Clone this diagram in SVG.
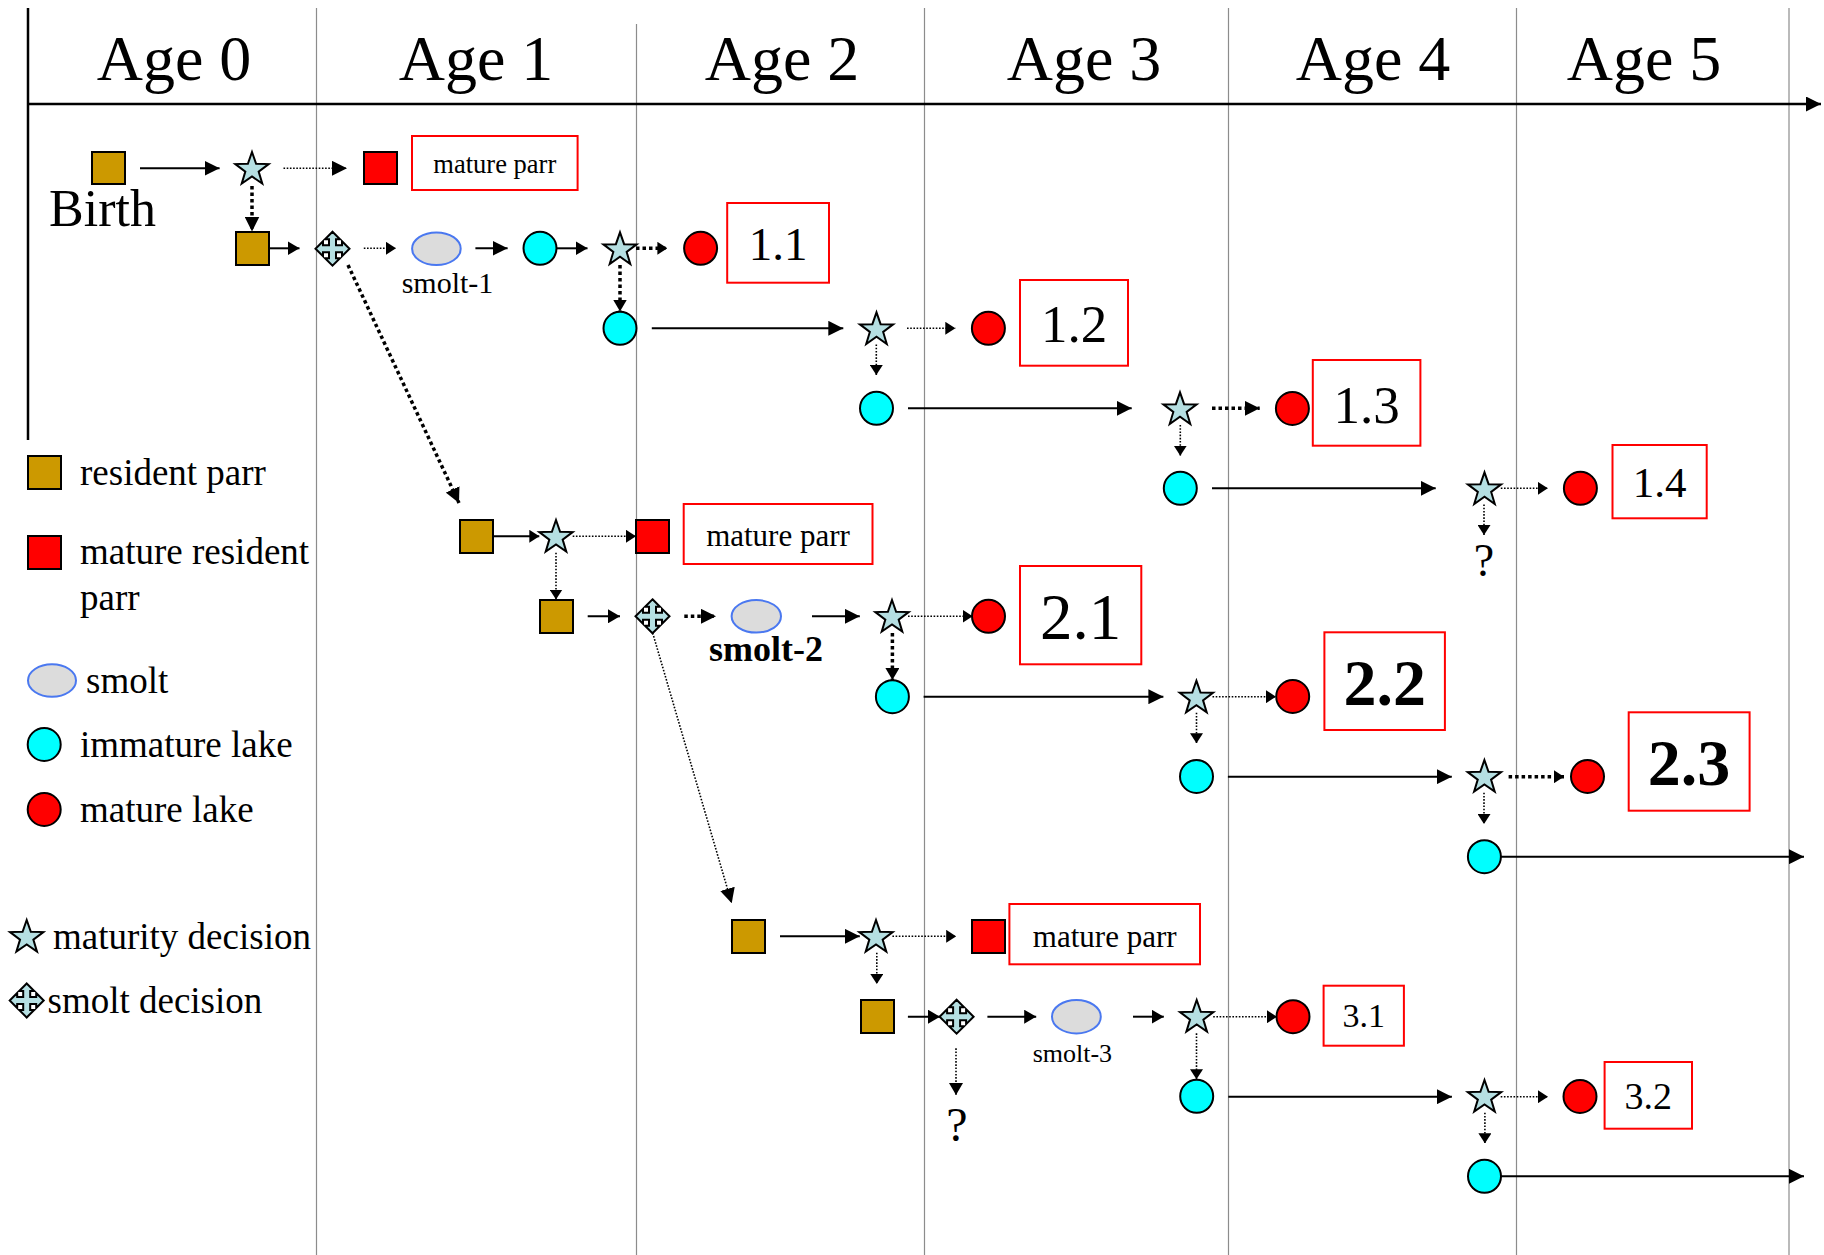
<svg xmlns="http://www.w3.org/2000/svg" xmlns:xlink="http://www.w3.org/1999/xlink" width="1824" height="1255" viewBox="0 0 1824 1255">
  <style>
    .grid{stroke:#8c8c8c;stroke-width:1.2;fill:none}
    .axis{stroke:#000;stroke-width:2.5;fill:none}
    .solid{stroke:#000;stroke-width:2;fill:none}
    .dot{stroke:#000;stroke-width:1.6;stroke-dasharray:1.6 1.6;fill:none}
    .dotb{stroke:#000;stroke-width:3.5;stroke-dasharray:3.5 3;fill:none}
    .parr{fill:#cc9900;stroke:#000;stroke-width:2}
    .mparr{fill:#ff0000;stroke:#000;stroke-width:2}
    .imm{fill:#00ffff;stroke:#000;stroke-width:2}
    .mat{fill:#ff0000;stroke:#000;stroke-width:2}
    .smolt{fill:#dcdcdc;stroke:#4a78f0;stroke-width:2}
    .dec{fill:#b5dfe2;stroke:#000;stroke-width:2;stroke-linejoin:miter}
    .box{fill:#fff;stroke:#ff0000;stroke-width:2}
    text{font-family:"Liberation Serif","Times New Roman",serif;fill:#000}
    .age{font-size:64px;text-anchor:middle}
    .leg{font-size:37px}
    .mid{text-anchor:middle}
  </style>
  <defs>
    <marker id="hL" viewBox="0 0 15 15" refX="15" refY="7.5" markerWidth="15" markerHeight="15" markerUnits="userSpaceOnUse" orient="auto">
      <path d="M0,0 L15,7.5 L0,15 Z" fill="#000"/>
    </marker>
    <marker id="hM" viewBox="0 0 12 14" refX="12" refY="7" markerWidth="12" markerHeight="14" markerUnits="userSpaceOnUse" orient="auto">
      <path d="M0,0 L12,7 L0,14 Z" fill="#000"/>
    </marker>
    <marker id="hS" viewBox="0 0 10 13" refX="10" refY="6.5" markerWidth="10" markerHeight="13" markerUnits="userSpaceOnUse" orient="auto">
      <path d="M0,0 L10,6.5 L0,13 Z" fill="#000"/>
    </marker>
    <!-- five-point maturity-decision star, centred on its circumcircle -->
    <path id="star" d="M0,-17.5 L4.11,-5.66 L16.64,-5.41 L6.66,2.16 L10.29,14.16 L0,7 L-10.29,14.16 L-6.66,2.16 L-16.64,-5.41 L-4.11,-5.66 Z"/>
    <!-- four-way arrow used for the smolt decision -->
    <path id="cross" d="M0,-17 L7.5,-9.5 L3.5,-9.5 L3.5,-3.5 L9.5,-3.5 L9.5,-7.5 L17,0 L9.5,7.5 L9.5,3.5 L3.5,3.5 L3.5,9.5 L7.5,9.5 L0,17 L-7.5,9.5 L-3.5,9.5 L-3.5,3.5 L-9.5,3.5 L-9.5,7.5 L-17,0 L-9.5,-7.5 L-9.5,-3.5 L-3.5,-3.5 L-3.5,-9.5 L-7.5,-9.5 Z"/>
  </defs>

  <rect width="1824" height="1255" fill="#fff"/>

  <!-- age columns and time axis -->
  <g id="timeline">
    <line class="grid" x1="316.5" y1="8" x2="316.5" y2="1255"/>
    <line class="grid" x1="636.5" y1="24" x2="636.5" y2="1255"/>
    <line class="grid" x1="924.5" y1="8" x2="924.5" y2="1255"/>
    <line class="grid" x1="1228.5" y1="8" x2="1228.5" y2="1255"/>
    <line class="grid" x1="1516.5" y1="8" x2="1516.5" y2="1255"/>
    <line class="grid" x1="1789" y1="8" x2="1789" y2="1255"/>
    <line class="axis" x1="28" y1="8" x2="28" y2="440"/>
    <line class="axis" x1="28" y1="104" x2="1821" y2="104" marker-end="url(#hL)"/>
    <text class="age" x="174" y="80">Age 0</text>
    <text class="age" x="476" y="80">Age 1</text>
    <text class="age" x="782" y="80">Age 2</text>
    <text class="age" x="1084" y="80">Age 3</text>
    <text class="age" x="1373" y="80">Age 4</text>
    <text class="age" x="1644" y="80">Age 5</text>
  </g>

  <!-- legend -->
  <g id="legend">
    <rect class="parr" x="28" y="456" width="33" height="33"/>
    <text class="leg" x="80" y="485">resident parr</text>
    <rect class="mparr" x="28" y="536" width="33" height="33"/>
    <text class="leg" x="80" y="564">mature resident</text>
    <text class="leg" x="80" y="610">parr</text>
    <ellipse class="smolt" cx="52" cy="680.5" rx="24" ry="16.3"/>
    <text class="leg" x="86" y="693">smolt</text>
    <circle class="imm" cx="44.2" cy="744.5" r="16.5"/>
    <text class="leg" x="80" y="757">immature lake</text>
    <circle class="mat" cx="44.2" cy="809.5" r="16.5"/>
    <text class="leg" x="80" y="822">mature lake</text>
    <use href="#star" class="dec" x="26.7" y="937.5"/>
    <text class="leg" x="53" y="949">maturity decision</text>
    <use href="#cross" class="dec" x="26.7" y="1000.5"/>
    <text class="leg" x="47.5" y="1012.5">smolt decision</text>
  </g>

  <!-- connectors -->
  <g id="connectors">
    <!-- cohort 1 -->
    <line class="solid" x1="140" y1="168.3" x2="219.6" y2="168.3" marker-end="url(#hL)"/>
    <line class="dot" x1="283.5" y1="168.3" x2="347" y2="168.3" marker-end="url(#hL)"/>
    <line class="dotb" x1="252" y1="186" x2="252" y2="231.5" marker-end="url(#hL)"/>
    <line class="solid" x1="269" y1="248.3" x2="299.5" y2="248.3" marker-end="url(#hM)"/>
    <line class="dot" x1="363.8" y1="248.3" x2="396" y2="248.3" marker-end="url(#hS)"/>
    <line class="solid" x1="475.4" y1="248.3" x2="507.6" y2="248.3" marker-end="url(#hL)"/>
    <line class="solid" x1="556.5" y1="248.3" x2="587.5" y2="248.3" marker-end="url(#hM)"/>
    <line class="dotb" x1="636" y1="248.3" x2="667.4" y2="248.3" marker-end="url(#hS)"/>
    <line class="dotb" x1="620" y1="265" x2="620" y2="311.5" marker-end="url(#hM)"/>
    <line class="solid" x1="651.8" y1="328.3" x2="843.3" y2="328.3" marker-end="url(#hL)"/>
    <line class="dot" x1="907" y1="328.3" x2="955.3" y2="328.3" marker-end="url(#hS)"/>
    <line class="dot" x1="876.3" y1="344.5" x2="876.3" y2="375" marker-end="url(#hS)"/>
    <line class="solid" x1="908" y1="408.3" x2="1131.7" y2="408.3" marker-end="url(#hL)"/>
    <line class="dotb" x1="1212" y1="408.3" x2="1259.7" y2="408.3" marker-end="url(#hL)"/>
    <line class="dot" x1="1180.3" y1="425" x2="1180.3" y2="455.7" marker-end="url(#hS)"/>
    <line class="solid" x1="1212" y1="488.3" x2="1435.7" y2="488.3" marker-end="url(#hL)"/>
    <line class="dot" x1="1500.8" y1="488.3" x2="1547.8" y2="488.3" marker-end="url(#hS)"/>
    <line class="dot" x1="1484" y1="504.5" x2="1484" y2="535" marker-end="url(#hS)"/>
    <!-- cohort 2 -->
    <line class="dotb" x1="348" y1="265" x2="459" y2="503" marker-end="url(#hL)"/>
    <line class="solid" x1="492.8" y1="536.3" x2="539.3" y2="536.3" marker-end="url(#hS)"/>
    <line class="dot" x1="572.7" y1="536.3" x2="636" y2="536.3" marker-end="url(#hS)"/>
    <line class="dot" x1="556" y1="552.7" x2="556" y2="599.5" marker-end="url(#hS)"/>
    <line class="solid" x1="587.7" y1="616.3" x2="620" y2="616.3" marker-end="url(#hM)"/>
    <line class="dotb" x1="684.3" y1="616.3" x2="716" y2="616.3" marker-end="url(#hL)"/>
    <line class="solid" x1="812" y1="616.3" x2="859.8" y2="616.3" marker-end="url(#hL)"/>
    <line class="dot" x1="908" y1="616.3" x2="972.7" y2="616.3" marker-end="url(#hS)"/>
    <line class="dotb" x1="892.4" y1="633" x2="892.4" y2="680" marker-end="url(#hM)"/>
    <line class="solid" x1="923.6" y1="696.7" x2="1163.4" y2="696.7" marker-end="url(#hL)"/>
    <line class="dot" x1="1212.5" y1="696.7" x2="1276" y2="696.7" marker-end="url(#hS)"/>
    <line class="dot" x1="1196.5" y1="712.7" x2="1196.5" y2="743.3" marker-end="url(#hS)"/>
    <line class="solid" x1="1227.9" y1="776.7" x2="1451.8" y2="776.7" marker-end="url(#hL)"/>
    <line class="dotb" x1="1508.6" y1="776.7" x2="1564" y2="776.7" marker-end="url(#hS)"/>
    <line class="dot" x1="1484" y1="792.7" x2="1484" y2="824" marker-end="url(#hS)"/>
    <line class="solid" x1="1500.8" y1="856.7" x2="1804" y2="856.7" marker-end="url(#hL)"/>
    <!-- cohort 3 -->
    <line class="dot" x1="652.7" y1="633" x2="731.7" y2="903.3" marker-end="url(#hL)"/>
    <line class="solid" x1="780" y1="936.3" x2="859.8" y2="936.3" marker-end="url(#hL)"/>
    <line class="dot" x1="892.4" y1="936.3" x2="956.2" y2="936.3" marker-end="url(#hS)"/>
    <line class="dot" x1="876.8" y1="952.7" x2="876.8" y2="984" marker-end="url(#hS)"/>
    <line class="solid" x1="907.9" y1="1016.7" x2="940" y2="1016.7" marker-end="url(#hM)"/>
    <line class="solid" x1="987.4" y1="1016.7" x2="1036.2" y2="1016.7" marker-end="url(#hM)"/>
    <line class="solid" x1="1133" y1="1016.7" x2="1163.8" y2="1016.7" marker-end="url(#hM)"/>
    <line class="dot" x1="1213.2" y1="1016.7" x2="1277" y2="1016.7" marker-end="url(#hS)"/>
    <line class="dot" x1="956" y1="1048.3" x2="956" y2="1095" marker-end="url(#hM)"/>
    <line class="dot" x1="1196.5" y1="1033.3" x2="1196.5" y2="1079.3" marker-end="url(#hS)"/>
    <line class="solid" x1="1228.3" y1="1096.7" x2="1451.9" y2="1096.7" marker-end="url(#hL)"/>
    <line class="dot" x1="1500.7" y1="1096.7" x2="1548" y2="1096.7" marker-end="url(#hS)"/>
    <line class="dot" x1="1484.9" y1="1112.7" x2="1484.9" y2="1143.3" marker-end="url(#hS)"/>
    <line class="solid" x1="1500.7" y1="1176.3" x2="1804" y2="1176.3" marker-end="url(#hL)"/>
  </g>

  <!-- cohort 1 nodes -->
  <g id="birth"><rect class="parr" x="92" y="152" width="33" height="32"/><text x="49" y="225.7" font-size="52">Birth</text></g>
  <g id="d1-mature"><use href="#star" class="dec" x="252" y="169.5"/></g>
  <g id="p1-mature"><rect class="mparr" x="364" y="152" width="33" height="32"/></g>
  <g id="p1-mature-label"><rect class="box" x="412" y="136" width="165.6" height="54"/><text class="mid" x="494.8" y="173.3" font-size="26.5">mature parr</text></g>
  <g id="p1"><rect class="parr" x="236" y="232" width="33" height="33"/></g>
  <g id="d1-smolt"><use href="#cross" class="dec" x="332.5" y="248.7"/></g>
  <g id="smolt-1"><ellipse class="smolt" cx="436.4" cy="248.7" rx="24.3" ry="16.3"/><text class="mid" x="447.5" y="293" font-size="30">smolt-1</text></g>
  <g id="l11"><circle class="imm" cx="540" cy="248.3" r="16.5"/></g>
  <g id="s11"><use href="#star" class="dec" x="620" y="249.8"/></g>
  <g id="m11"><circle class="mat" cx="700.6" cy="248.3" r="16.5"/></g>
  <g id="b11"><rect class="box" x="727.2" y="203" width="101.8" height="79.7"/><text class="mid" x="778" y="260" font-size="47">1.1</text></g>
  <g id="l12"><circle class="imm" cx="620" cy="328.3" r="16.5"/></g>
  <g id="s12"><use href="#star" class="dec" x="876.5" y="329.8"/></g>
  <g id="m12"><circle class="mat" cx="988.4" cy="328.3" r="16.5"/></g>
  <g id="b12"><rect class="box" x="1020" y="280" width="108" height="85.7"/><text class="mid" x="1074" y="342.3" font-size="53">1.2</text></g>
  <g id="l13"><circle class="imm" cx="876.5" cy="408.3" r="16.5"/></g>
  <g id="s13"><use href="#star" class="dec" x="1180" y="409.8"/></g>
  <g id="m13"><circle class="mat" cx="1292.4" cy="408.5" r="16.5"/></g>
  <g id="b13"><rect class="box" x="1312.8" y="360" width="107.6" height="85.7"/><text class="mid" x="1366.6" y="422.7" font-size="53">1.3</text></g>
  <g id="l14"><circle class="imm" cx="1180.3" cy="488.3" r="16.5"/></g>
  <g id="s14"><use href="#star" class="dec" x="1484.5" y="489.8"/><text class="mid" x="1484" y="576" font-size="46">?</text></g>
  <g id="m14"><circle class="mat" cx="1580.4" cy="488.3" r="16.5"/></g>
  <g id="b14"><rect class="box" x="1612.5" y="445" width="94.2" height="73.3"/><text class="mid" x="1659.6" y="496.7" font-size="43">1.4</text></g>

  <!-- cohort 2 nodes -->
  <g id="p2a"><rect class="parr" x="460" y="520" width="33" height="33"/></g>
  <g id="s2a"><use href="#star" class="dec" x="556" y="537.5"/></g>
  <g id="p2-mature"><rect class="mparr" x="636" y="520" width="33" height="33"/></g>
  <g id="p2-mature-label"><rect class="box" x="683.7" y="504" width="188.8" height="60"/><text class="mid" x="778" y="546" font-size="31">mature parr</text></g>
  <g id="p2b"><rect class="parr" x="540" y="600" width="33" height="33"/></g>
  <g id="d2-smolt"><use href="#cross" class="dec" x="652.5" y="616.3"/></g>
  <g id="smolt-2"><ellipse class="smolt" cx="756.3" cy="616.3" rx="24.7" ry="16.3"/><text class="mid" x="766" y="661" font-size="36" font-weight="bold">smolt-2</text></g>
  <g id="s21"><use href="#star" class="dec" x="892" y="617.5"/></g>
  <g id="m21"><circle class="mat" cx="988.5" cy="616.3" r="16.5"/></g>
  <g id="b21"><rect class="box" x="1020" y="566" width="121.3" height="98.3"/><text class="mid" x="1080.7" y="639.3" font-size="65">2.1</text></g>
  <g id="l22"><circle class="imm" cx="892.4" cy="696.7" r="16.5"/></g>
  <g id="s22"><use href="#star" class="dec" x="1196.4" y="698.2"/></g>
  <g id="m22"><circle class="mat" cx="1292.7" cy="696.5" r="16.5"/></g>
  <g id="b22"><rect class="box" x="1324.4" y="632.3" width="120.5" height="97.7"/><text class="mid" x="1384.7" y="705" font-size="66" font-weight="bold">2.2</text></g>
  <g id="l23"><circle class="imm" cx="1196.5" cy="776.5" r="16.5"/></g>
  <g id="s23"><use href="#star" class="dec" x="1484.4" y="777.5"/></g>
  <g id="m23"><circle class="mat" cx="1587.5" cy="776.5" r="16.5"/></g>
  <g id="b23"><rect class="box" x="1628.7" y="712.3" width="120.9" height="98.4"/><text class="mid" x="1689" y="785" font-size="66" font-weight="bold">2.3</text></g>
  <g id="l24"><circle class="imm" cx="1484.4" cy="856.7" r="16.5"/></g>

  <!-- cohort 3 nodes -->
  <g id="p3a"><rect class="parr" x="732" y="920" width="33" height="33"/></g>
  <g id="s3a"><use href="#star" class="dec" x="876" y="937.5"/></g>
  <g id="p3-mature"><rect class="mparr" x="972" y="920" width="33" height="33"/></g>
  <g id="p3-mature-label"><rect class="box" x="1009.4" y="904" width="190.6" height="60.3"/><text class="mid" x="1104.7" y="946.7" font-size="31">mature parr</text></g>
  <g id="p3b"><rect class="parr" x="861" y="1000" width="33" height="33"/></g>
  <g id="d3-smolt"><use href="#cross" class="dec" x="956.6" y="1016.7"/><text class="mid" x="957" y="1141" font-size="48">?</text></g>
  <g id="smolt-3"><ellipse class="smolt" cx="1076.4" cy="1016.7" rx="24.4" ry="16.7"/><text class="mid" x="1072.4" y="1061.7" font-size="26">smolt-3</text></g>
  <g id="s31"><use href="#star" class="dec" x="1196.7" y="1017.5"/></g>
  <g id="m31"><circle class="mat" cx="1293" cy="1016.7" r="16.5"/></g>
  <g id="b31"><rect class="box" x="1323.6" y="985.7" width="80.3" height="60"/><text class="mid" x="1363.8" y="1027.3" font-size="34">3.1</text></g>
  <g id="l32"><circle class="imm" cx="1196.7" cy="1096.3" r="16.5"/></g>
  <g id="s32"><use href="#star" class="dec" x="1484.5" y="1097.5"/></g>
  <g id="m32"><circle class="mat" cx="1580" cy="1096.5" r="16.5"/></g>
  <g id="b32"><rect class="box" x="1604.6" y="1062" width="87.4" height="66.7"/><text class="mid" x="1648.3" y="1109.3" font-size="38">3.2</text></g>
  <g id="l33"><circle class="imm" cx="1484.5" cy="1176.3" r="16.5"/></g>
</svg>
